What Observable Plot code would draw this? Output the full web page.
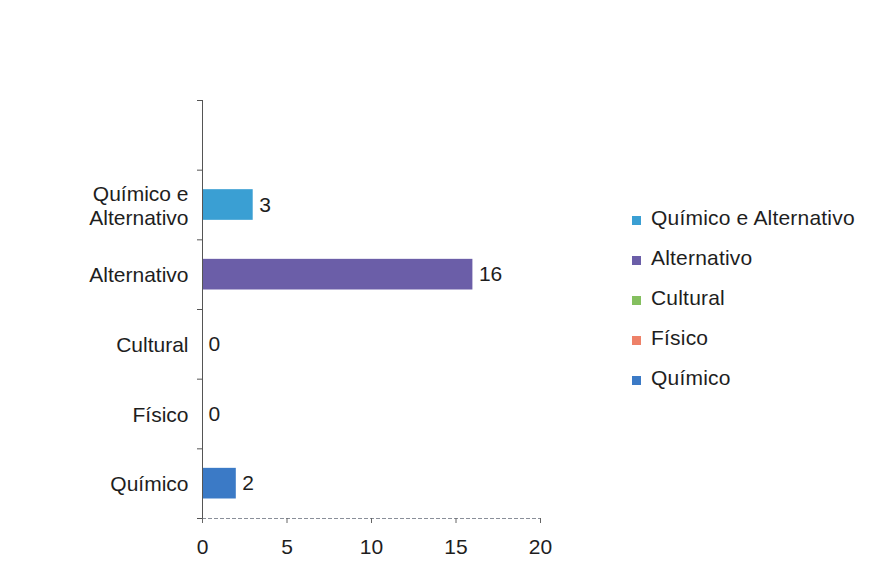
<!DOCTYPE html>
<html>
<head>
<meta charset="utf-8">
<script src="https://cdn.jsdelivr.net/npm/d3@7"></script>
<script src="https://cdn.jsdelivr.net/npm/@observablehq/plot@0.6"></script>
<style>
  html, body { margin: 0; padding: 0; background: #fff; }
  #wrap { position: relative; width: 869px; height: 580px; font-family: "Liberation Sans", Arial, sans-serif; }
  #legend { position: absolute; left: 632px; top: 198px; }
  .item { display: flex; align-items: center; height: 40px; font-size: 21px; color: #1e1e1e; letter-spacing: 0.2px; }
  .sw { width: 9px; height: 9px; margin-right: 10px; margin-top: 4px; }
</style>
</head>
<body>
<div id="wrap"></div>
<script>
// Data (top to bottom as shown)
const categories = ["Químico e Alternativo", "Alternativo", "Cultural", "Físico", "Químico"];
const axisLabels = ["Químico e\nAlternativo", "Alternativo", "Cultural", "Físico", "Químico"];
const values = [3, 16, 0, 0, 2];
const colors = ["#3a9fd3", "#6b5ea8", "#84bf5f", "#ee8168", "#3b7ac6"];
const xTicks = [0, 5, 10, 15, 20];

const n = categories.length;
const slots = n + 1; // one empty slot above, as in the original
const rows = categories.map((c, i) => ({
  cat: c,
  label: axisLabels[i],
  value: values[i],
  color: colors[i],
  pos: n - i - 0.5
}));
const half = 0.22;

const chart = Plot.plot({
  width: 869,
  height: 580,
  marginLeft: 202,
  marginRight: 329,
  marginTop: 100,
  marginBottom: 62,
  style: { fontFamily: "'Liberation Sans', Arial, sans-serif", fontSize: "21px", color: "#1e1e1e", background: "transparent" },
  x: { domain: [0, 20], label: null },
  y: { domain: [0, slots], label: null },
  marks: [
    Plot.rect(rows.filter(d => d.value > 0), {
      x1: 0, x2: "value",
      y1: d => d.pos - half, y2: d => d.pos + half,
      fill: "color"
    }),
    Plot.text(rows, {
      x: "value", y: "pos", text: d => String(d.value),
      textAnchor: "start", dx: 6, fill: "#1e1e1e", fontSize: 21
    }),
    // y axis line
    Plot.ruleX([0], { stroke: "#555", strokeWidth: 1 }),
    // x axis line
    Plot.ruleY([0], { x1: 0, x2: 20, stroke: "#8a8f99", strokeWidth: 1, strokeDasharray: "4,2" }),
    // y ticks at slot boundaries
    Plot.axisY(d3.range(0, slots + 1), { tickSize: 5, tickFormat: () => "", stroke: "#555", label: null }),
    // y category labels
    Plot.axisY(rows.map(d => d.pos), {
      tickSize: 0, tickPadding: 14,
      tickFormat: p => rows.find(r => r.pos === p).label,
      fontSize: 21, lineHeight: 1.15, fill: "#1e1e1e", label: null
    }),
    // x axis
    Plot.axisX(xTicks, { tickSize: 5, tickPadding: 16, stroke: "#666", fontSize: 21, fill: "#1e1e1e", label: null })
  ]
});

const wrap = document.getElementById("wrap");
wrap.appendChild(chart);

const legend = document.createElement("div");
legend.id = "legend";
categories.forEach((c, i) => {
  const item = document.createElement("div");
  item.className = "item";
  const sw = document.createElement("span");
  sw.className = "sw";
  sw.style.background = colors[i];
  const t = document.createElement("span");
  t.textContent = c;
  item.appendChild(sw);
  item.appendChild(t);
  legend.appendChild(item);
});
wrap.appendChild(legend);
</script>
</body>
</html>
